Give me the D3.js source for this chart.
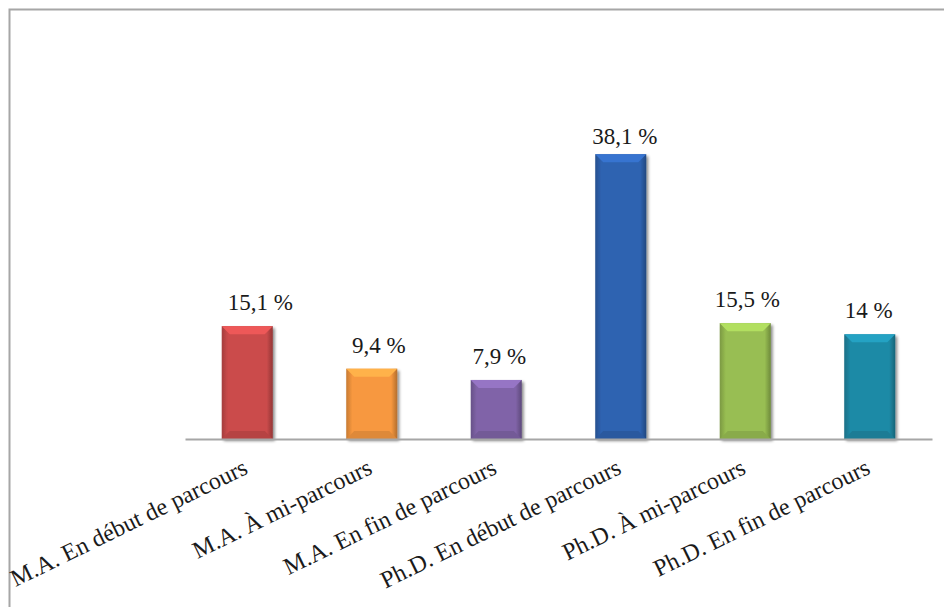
<!DOCTYPE html>
<html>
<head>
<meta charset="utf-8">
<script src="https://cdn.jsdelivr.net/npm/d3@7"></script>
<style>
  html, body { margin: 0; padding: 0; background: #fff; }
  svg { display: block; }
</style>
</head>
<body>
<svg id="chart" width="944" height="607"></svg>
<script>
// Share of respondents by program and stage of progress
const categories = [
  "M.A. En début de parcours",
  "M.A. À mi-parcours",
  "M.A. En fin de parcours",
  "Ph.D. En début de parcours",
  "Ph.D. À mi-parcours",
  "Ph.D. En fin de parcours"
];
const values = [15.1, 9.4, 7.9, 38.1, 15.5, 14];
const valueLabels = ["15,1 %", "9,4 %", "7,9 %", "38,1 %", "15,5 %", "14 %"];
const colors = ["#CB4B4B", "#F7983F", "#8064A8", "#2F63B1", "#98BE52", "#1F8AA6"];

// small horizontal nudges applied to the value labels (px)
const labelNudge = [13, 7, 3, 4, 2, -1];

const svg = d3.select("#chart");
const W = 944, H = 607;
const serif = "Liberation Serif";

// chart frame (only top and left edges fall inside the view)
svg.append("rect")
  .attr("x", 9.5).attr("y", 9.5)
  .attr("width", W + 20).attr("height", H + 20)
  .attr("fill", "none")
  .attr("stroke", "#a6a6a6")
  .attr("stroke-width", 2);

const x = d3.scaleBand()
  .domain(categories)
  .range([185, 932])
  .paddingInner(0.59)
  .paddingOuter(0.295);

const y = d3.scaleLinear()
  .domain([0, 40])
  .range([439, 140]);

const defs = svg.append("defs");

// soft drop shadow behind each bar
const shadow = defs.append("filter").attr("id", "shadow")
  .attr("x", "-20%").attr("y", "-20%").attr("width", "140%").attr("height", "140%");
shadow.append("feGaussianBlur").attr("in", "SourceAlpha").attr("stdDeviation", 1.5);
shadow.append("feOffset").attr("dx", 1.5).attr("dy", 1.5).attr("result", "off");
shadow.append("feComponentTransfer").append("feFuncA").attr("type", "linear").attr("slope", 0.45);
const merge = shadow.append("feMerge");
merge.append("feMergeNode");
merge.append("feMergeNode").attr("in", "SourceGraphic");

// horizontal shading gradient per colour: darker edges, flat middle
colors.forEach((c, i) => {
  const g = defs.append("linearGradient").attr("id", "grad" + i)
    .attr("x1", 0).attr("x2", 1).attr("y1", 0).attr("y2", 0);
  const base = d3.color(c);
  g.append("stop").attr("offset", "0%").attr("stop-color", base.darker(0.6));
  g.append("stop").attr("offset", "12%").attr("stop-color", base);
  g.append("stop").attr("offset", "88%").attr("stop-color", base);
  g.append("stop").attr("offset", "100%").attr("stop-color", base.darker(0.9));
});

const bars = svg.append("g").selectAll("g.bar")
  .data(values)
  .join("g")
  .attr("class", "bar");

const bev = 8;

bars.append("rect")
  .attr("x", (d, i) => x(categories[i]))
  .attr("y", d => y(d))
  .attr("width", x.bandwidth())
  .attr("height", d => y(0) - y(d))
  .attr("fill", (d, i) => `url(#grad${i})`)
  .attr("filter", "url(#shadow)");

// top bevel: lighter trapezoid
bars.append("path")
  .attr("d", (d, i) => {
    const x0 = x(categories[i]), x1 = x0 + x.bandwidth(), t = y(d);
    return `M${x0},${t}L${x1},${t}L${x1 - bev},${t + bev}L${x0 + bev},${t + bev}Z`;
  })
  .attr("fill", (d, i) => d3.color(colors[i]).brighter(0.45));

// bottom bevel: darker trapezoid
bars.append("path")
  .attr("d", (d, i) => {
    const x0 = x(categories[i]), x1 = x0 + x.bandwidth(), b = y(0);
    return `M${x0},${b}L${x1},${b}L${x1 - bev},${b - bev}L${x0 + bev},${b - bev}Z`;
  })
  .attr("fill", (d, i) => d3.color(colors[i]).darker(0.3));

// value labels above bars, kept inside the plot's top edge
const labelTop = 144;
bars.append("text")
  .attr("x", (d, i) => x(categories[i]) + x.bandwidth() / 2 + labelNudge[i])
  .attr("y", d => Math.max(y(d) - 16, labelTop))
  .attr("text-anchor", "middle")
  .style("font-family", serif)
  .attr("font-size", 23)
  .attr("fill", "#1a1a1a")
  .text((d, i) => valueLabels[i]);

// category axis
const axis = d3.axisBottom(x).tickSize(0).tickPadding(0);
const gx = svg.append("g")
  .attr("transform", `translate(0,${y(0)})`)
  .call(axis);
gx.select(".domain")
  .attr("stroke", "#a6a6a6")
  .attr("stroke-width", 2);
gx.selectAll(".tick text")
  .style("font-family", serif)
  .attr("font-size", 24)
  .attr("fill", "#1a1a1a")
  .attr("text-anchor", "end")
  .attr("dy", 0)
  .attr("y", 0)
  .attr("transform", "translate(2,34) rotate(-26)");
</script>
</body>
</html>
